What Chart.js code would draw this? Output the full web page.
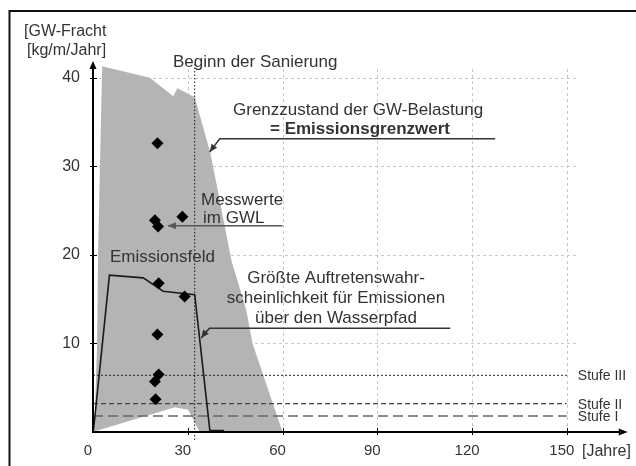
<!DOCTYPE html>
<html>
<head>
<meta charset="utf-8">
<script src="https://cdn.jsdelivr.net/npm/chart.js@4/dist/chart.umd.min.js"></script>
<style>
  html, body { margin: 0; padding: 0; background: #fff; }
  canvas { display: block; }
</style>
</head>
<body>
<canvas id="chart" width="636" height="466"></canvas>
<script>
// Emissionsfeld: obere Begrenzung und freie Fläche darunter (Jahre / kg/m/Jahr)
const feldObenJahre = [0.4, 1.3, 1.6, 2.2, 2.9, 18, 25.4, 26.7, 32.2, 37, 38, 43.8, 48.5, 50.5, 60];
const feldObenWerte = [0, 10, 20, 30, 41.3, 40.0, 37.9, 38.8, 37.8, 31.7, 30, 19.4, 13.8, 10, 0];
const feldUntenJahre = [0.4, 1.2, 25.9, 30.1, 33.8];
const feldUntenWerte = [0, 0.15, 2.8, 2.5, 0];

// Größte Auftretenswahrscheinlichkeit über den Wasserpfad
const pfadJahre = [0.1, 5.2, 15.9, 22.2, 32.2, 37, 41.5];
const pfadWerte = [0, 17.7, 17.4, 15.9, 15.5, 0.15, 0.15];

// Messwerte im GWL
const messJahre = [20.4, 19.6, 20.6, 28.3, 20.8, 29.0, 20.4, 20.8, 19.6, 19.8];
const messWerte = [32.6, 23.9, 23.2, 24.3, 16.8, 15.3, 11.0, 6.5, 5.7, 3.7];

// Stufen
const stufenNamen = ['Stufe III', 'Stufe II', 'Stufe I'];
const stufenWerte = [6.4, 3.2, 1.8];
const stufenEnde = 150;

const sanierungJahr = 32.2;
const gitterJahre = [30, 60, 90, 120, 150];
const gitterWerte = [10, 20, 30, 40];

const zip = (xs, ys) => xs.map((x, i) => ({ x: x, y: ys[i] }));

const TEXT = '#333';
const FONT = '"Liberation Sans", Arial, sans-serif';

const stufenStil = [
  { dash: [2, 2], color: '#222', width: 1 },
  { dash: [5, 3], color: '#444', width: 1.3 },
  { dash: [10, 5], color: '#666', width: 1.5 }
];

const stufenDatasets = stufenWerte.map((v, i) => ({
  data: [{ x: 0, y: v }, { x: stufenEnde, y: v }],
  borderColor: stufenStil[i].color,
  borderWidth: stufenStil[i].width,
  borderDash: stufenStil[i].dash,
  pointRadius: 0,
  fill: false,
  order: 5
}));

function pfeil(ctx, punkte, farbe) {
  ctx.save();
  ctx.strokeStyle = farbe;
  ctx.fillStyle = farbe;
  ctx.lineWidth = 1.5;
  ctx.beginPath();
  punkte.forEach((p, i) => (i ? ctx.lineTo(p[0], p[1]) : ctx.moveTo(p[0], p[1])));
  ctx.stroke();
  // Pfeilspitze am letzten Punkt
  const a = punkte[punkte.length - 2], b = punkte[punkte.length - 1];
  const ang = Math.atan2(b[1] - a[1], b[0] - a[0]);
  const len = 8, w = 3.5;
  ctx.beginPath();
  ctx.moveTo(b[0], b[1]);
  ctx.lineTo(b[0] - len * Math.cos(ang) + w * Math.sin(ang), b[1] - len * Math.sin(ang) - w * Math.cos(ang));
  ctx.lineTo(b[0] - len * Math.cos(ang) - w * Math.sin(ang), b[1] - len * Math.sin(ang) + w * Math.cos(ang));
  ctx.closePath();
  ctx.fill();
  ctx.restore();
}

function text(ctx, t, x, y, opts = {}) {
  ctx.save();
  ctx.font = (opts.bold ? 'bold ' : '') + (opts.size || 17) + 'px ' + FONT;
  ctx.fillStyle = TEXT;
  ctx.textAlign = opts.align || 'left';
  ctx.textBaseline = 'alphabetic';
  ctx.fillText(t, x, y);
  ctx.restore();
}

const zeichnung = {
  id: 'zeichnung',
  beforeDraw(chart) {
    const ctx = chart.ctx;
    ctx.save();
    ctx.fillStyle = '#fff';
    ctx.fillRect(0, 0, chart.width, chart.height);
    // Rahmen oben/links
    ctx.strokeStyle = '#111';
    ctx.lineWidth = 2;
    ctx.beginPath();
    ctx.moveTo(9.5, chart.height);
    ctx.lineTo(9.5, 11);
    ctx.lineTo(chart.width, 11);
    ctx.stroke();
    ctx.restore();
  },
  beforeDatasetsDraw(chart) {
    const ctx = chart.ctx, xs = chart.scales.x, ys = chart.scales.y;
    ctx.save();
    ctx.strokeStyle = '#c8c8c8';
    ctx.lineWidth = 1;
    ctx.setLineDash([3, 3]);
    gitterWerte.forEach(v => {
      const y = Math.round(ys.getPixelForValue(v)) + 0.5;
      ctx.beginPath();
      ctx.moveTo(xs.getPixelForValue(0), y);
      ctx.lineTo(xs.getPixelForValue(153.5), y);
      ctx.stroke();
    });
    gitterJahre.forEach(j => {
      const x = Math.round(xs.getPixelForValue(j)) + 0.5;
      ctx.beginPath();
      ctx.moveTo(x, ys.getPixelForValue(0));
      ctx.lineTo(x, ys.getPixelForValue(41.2));
      ctx.stroke();
    });
    ctx.restore();
  },
  afterDatasetsDraw(chart) {
    const ctx = chart.ctx, xs = chart.scales.x, ys = chart.scales.y;
    const P = (x, y) => [xs.getPixelForValue(x), ys.getPixelForValue(y)];
    const x0 = xs.getPixelForValue(0), y0 = ys.getPixelForValue(0);

    // Achsen mit Pfeilen
    ctx.save();
    ctx.strokeStyle = '#000';
    ctx.fillStyle = '#000';
    ctx.lineWidth = 2;
    const yTop = ys.getPixelForValue(41.9);
    const xEnd = xs.getPixelForValue(169.3);
    ctx.beginPath();
    ctx.moveTo(x0, y0);
    ctx.lineTo(x0, yTop + 6);
    ctx.moveTo(x0 - 1, y0);
    ctx.lineTo(xEnd - 6, y0);
    ctx.stroke();
    ctx.beginPath();
    ctx.moveTo(x0, yTop);
    ctx.lineTo(x0 - 3.5, yTop + 8);
    ctx.lineTo(x0 + 3.5, yTop + 8);
    ctx.closePath();
    ctx.fill();
    ctx.beginPath();
    ctx.moveTo(xEnd, y0);
    ctx.lineTo(xEnd - 9, y0 - 3.5);
    ctx.lineTo(xEnd - 9, y0 + 3.5);
    ctx.closePath();
    ctx.fill();
    ctx.lineWidth = 1;
    gitterWerte.forEach(v => {
      const y = Math.round(ys.getPixelForValue(v)) + 0.5;
      ctx.beginPath();
      ctx.moveTo(x0 - 3, y);
      ctx.lineTo(x0 + 4, y);
      ctx.stroke();
    });
    gitterJahre.forEach(j => {
      const x = Math.round(xs.getPixelForValue(j)) + 0.5;
      ctx.beginPath();
      ctx.moveTo(x, y0 - 4);
      ctx.lineTo(x, y0 + 3);
      ctx.stroke();
    });
    ctx.restore();

    // Achsentitel
    text(ctx, '[GW-Fracht', 24, 36, { size: 16 });
    text(ctx, '[kg/m/Jahr]', 27, 55, { size: 16 });
    text(ctx, '[Jahre]', 582, 456, { size: 16 });

    // Beschriftungen
    text(ctx, 'Beginn der Sanierung', 173, 67);
    text(ctx, 'Grenzzustand der GW-Belastung', 233, 115);
    text(ctx, '= Emissionsgrenzwert', 270, 134, { bold: true });
    pfeil(ctx, [P(127.3, 33.1), P(40.1, 33.1), P(36.9, 31.6)], '#333');

    text(ctx, 'Messwerte', 201, 205);
    text(ctx, 'im GWL', 203, 223);
    pfeil(ctx, [P(60.0, 23.3), P(23.7, 23.3)], '#555');

    text(ctx, 'Emissionsfeld', 110, 262);

    text(ctx, 'Größte Auftretenswahr-', 336, 283, { align: 'center' });
    text(ctx, 'scheinlichkeit für Emissionen', 336, 303, { align: 'center' });
    text(ctx, 'über den Wasserpfad', 336, 323, { align: 'center' });
    pfeil(ctx, [P(113.1, 11.7), P(36.9, 11.7), P(35.5, 11.2), P(34.3, 10.6)], '#333');

    stufenNamen.forEach((n, i) => {
      text(ctx, n, xs.getPixelForValue(stufenEnde) + 11, ys.getPixelForValue(stufenWerte[i]) + 5, { size: 14 });
    });
  }
};

new Chart(document.getElementById('chart'), {
  type: 'line',
  data: {
    datasets: [
      {
        // graue Fläche
        data: zip(feldObenJahre, feldObenWerte),
        borderWidth: 0,
        borderColor: 'rgba(0,0,0,0)',
        backgroundColor: '#b4b4b4',
        pointRadius: 0,
        fill: 'origin',
        order: 11
      },
      {
        // freie Fläche unter dem Emissionsfeld
        data: zip(feldUntenJahre, feldUntenWerte),
        borderWidth: 0,
        borderColor: 'rgba(0,0,0,0)',
        backgroundColor: '#fff',
        pointRadius: 0,
        fill: 'origin',
        order: 10
      },
      ...stufenDatasets,
      {
        data: zip(pfadJahre, pfadWerte),
        borderColor: '#1a1a1a',
        borderWidth: 1.6,
        pointRadius: 0,
        fill: false,
        order: 3
      },
      {
        data: [{ x: sanierungJahr, y: -0.9 }, { x: sanierungJahr, y: 41.5 }],
        borderColor: '#111',
        borderWidth: 1,
        borderDash: [1.5, 2],
        pointRadius: 0,
        fill: false,
        clip: false,
        order: 2
      },
      {
        data: zip(messJahre, messWerte),
        showLine: false,
        pointStyle: 'rectRot',
        pointRadius: 6,
        backgroundColor: '#000',
        borderColor: '#000',
        borderWidth: 0,
        order: 1
      }
    ]
  },
  options: {
    responsive: false,
    animation: false,
    events: [],
    devicePixelRatio: 1,
    layout: { padding: { left: 0, right: 5, top: 60, bottom: 0 } },
    plugins: { legend: { display: false }, tooltip: { enabled: false } },
    scales: {
      x: {
        type: 'linear',
        min: 0,
        max: 170,
        grid: { display: false, drawTicks: false },
        border: { display: false },
        ticks: {
          stepSize: 30,
          includeBounds: false,
          maxRotation: 0,
          padding: 10,
          labelOffset: -5,
          color: TEXT,
          font: { family: FONT, size: 15 },
          callback: v => (v <= 150 ? v : '')
        },
        afterFit: s => { s.height = 34; }
      },
      y: {
        type: 'linear',
        min: 0,
        max: 42,
        grid: { display: false, drawTicks: false },
        border: { display: false },
        ticks: {
          stepSize: 10,
          includeBounds: false,
          padding: 13,
          color: TEXT,
          font: { family: FONT, size: 16 },
          callback: v => (v === 0 ? '' : v)
        },
        afterFit: s => { s.width = 93; }
      }
    }
  },
  plugins: [zeichnung]
});
</script>
</body>
</html>
